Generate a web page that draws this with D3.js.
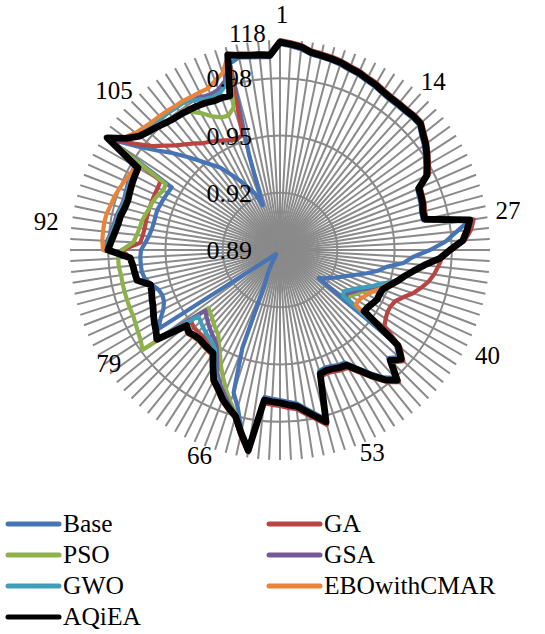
<!DOCTYPE html>
<html>
<head>
<meta charset="utf-8">
<script src="https://cdn.jsdelivr.net/npm/d3@7/dist/d3.min.js"></script>
<style>
  html, body { margin: 0; padding: 0; background: #ffffff; }
  svg { display: block; }
  text { font-family: "Liberation Serif", "Times New Roman", Times, serif; fill: #000; }
</style>
</head>
<body>
<svg id="chart" width="545" height="634"></svg>
<script>
// 120 test cases around the radar, every 13th one labelled
const categories = Array.from({ length: 120 }, (_, i) => i + 1);
const labeledCategories = [1, 14, 27, 40, 53, 66, 79, 92, 105, 118];

const tickValues = [0.89, 0.92, 0.95, 0.98];
const tickLabels = ["0.89", "0.92", "0.95", "0.98"];

const seriesNames = ["Base", "GA", "PSO", "GSA", "GWO", "EBOwithCMAR", "AQiEA"];

const base = [
  0.9979,0.9969,0.9958,0.9937,0.9932,0.9927,0.9921,0.9911,0.9906,0.9895,
  0.9890,0.9880,0.9874,0.9874,0.9874,0.9880,0.9880,0.9853,0.9832,0.9806,
  0.9780,0.9754,0.9686,0.9680,0.9675,0.9665,0.9665,0.9906,0.9832,0.9770,
  0.9686,0.9597,0.9550,0.9466,0.9424,0.9371,0.9319,0.9277,0.9246,0.9220,
  0.9193,0.9172,0.9151,0.9680,0.9738,0.9701,0.9801,0.9759,0.9696,0.9633,
  0.9581,0.9576,0.9565,0.9560,0.9565,0.9817,0.9775,0.9738,0.9707,0.9696,
  0.9686,0.9680,0.9675,0.9948,0.9869,0.9754,0.9686,0.9450,0.9099,0.9041,
  0.9000,0.8968,0.8947,0.8937,0.8931,0.8931,0.8942,0.8963,0.9015,0.9660,
  0.9623,0.9586,0.9565,0.9560,0.9570,0.9597,0.9623,0.9633,0.9633,0.9633,
  0.9628,0.9607,0.9591,0.9581,0.9576,0.9576,0.9576,0.9570,0.9565,0.9560,
  0.9555,0.9969,0.9822,0.9728,0.9660,0.9591,0.9529,0.9476,0.9434,0.9371,
  0.9319,0.9267,0.9225,0.9151,0.9424,0.9911,0.9932,0.9921,0.9916,0.9911
];

const ga = [
  1.0000,0.9989,0.9979,0.9958,0.9953,0.9948,0.9942,0.9932,0.9927,0.9916,
  0.9911,0.9900,0.9895,0.9895,0.9895,0.9900,0.9900,0.9874,0.9853,0.9827,
  0.9801,0.9775,0.9707,0.9701,0.9696,0.9686,0.9686,0.9927,0.9906,0.9869,
  0.9801,0.9749,0.9733,0.9717,0.9696,0.9665,0.9633,0.9591,0.9560,0.9550,
  0.9550,0.9560,0.9576,0.9712,0.9770,0.9733,0.9832,0.9790,0.9728,0.9665,
  0.9612,0.9607,0.9597,0.9591,0.9597,0.9848,0.9806,0.9770,0.9738,0.9728,
  0.9717,0.9712,0.9707,0.9974,0.9895,0.9811,0.9775,0.9743,0.9707,0.9665,
  0.9597,0.9539,0.9523,0.9513,0.9508,0.9508,0.9508,0.9497,0.9707,0.9675,
  0.9660,0.9644,0.9628,0.9618,0.9607,0.9602,0.9665,0.9670,0.9675,0.9686,
  0.9728,0.9633,0.9623,0.9618,0.9618,0.9618,0.9618,0.9618,0.9618,0.9618,
  0.9623,0.9979,0.9848,0.9764,0.9717,0.9675,0.9644,0.9618,0.9591,0.9576,
  0.9560,0.9544,0.9529,0.9523,0.9534,0.9942,0.9953,0.9942,0.9937,0.9932
];

const pso = [
  0.9989,0.9979,0.9969,0.9948,0.9942,0.9937,0.9932,0.9921,0.9916,0.9906,
  0.9900,0.9890,0.9885,0.9885,0.9885,0.9890,0.9890,0.9864,0.9843,0.9817,
  0.9790,0.9764,0.9696,0.9691,0.9686,0.9675,0.9675,0.9906,0.9885,0.9859,
  0.9790,0.9738,0.9660,0.9607,0.9565,0.9534,0.9476,0.9445,0.9413,0.9382,
  0.9361,0.9340,0.9340,0.9696,0.9754,0.9717,0.9817,0.9775,0.9712,0.9649,
  0.9597,0.9591,0.9581,0.9576,0.9581,0.9832,0.9790,0.9754,0.9722,0.9712,
  0.9701,0.9696,0.9691,0.9963,0.9874,0.9790,0.9738,0.9686,0.9633,0.9581,
  0.9529,0.9487,0.9450,0.9434,0.9419,0.9403,0.9392,0.9382,0.9790,0.9770,
  0.9759,0.9749,0.9743,0.9743,0.9743,0.9743,0.9743,0.9743,0.9749,0.9749,
  0.9728,0.9670,0.9654,0.9644,0.9639,0.9628,0.9618,0.9612,0.9602,0.9586,
  0.9591,0.9979,0.9895,0.9848,0.9827,0.9811,0.9796,0.9785,0.9780,0.9764,
  0.9728,0.9686,0.9660,0.9654,0.9686,0.9958,0.9942,0.9932,0.9927,0.9921
];

const gsa = [
  0.9989,0.9979,0.9969,0.9948,0.9942,0.9937,0.9932,0.9921,0.9916,0.9906,
  0.9900,0.9890,0.9885,0.9885,0.9885,0.9890,0.9890,0.9864,0.9843,0.9817,
  0.9790,0.9764,0.9696,0.9691,0.9686,0.9675,0.9675,0.9906,0.9885,0.9859,
  0.9790,0.9738,0.9660,0.9607,0.9565,0.9534,0.9471,0.9434,0.9398,0.9361,
  0.9340,0.9319,0.9324,0.9696,0.9754,0.9717,0.9817,0.9775,0.9712,0.9649,
  0.9597,0.9591,0.9581,0.9576,0.9581,0.9832,0.9790,0.9754,0.9722,0.9712,
  0.9701,0.9696,0.9691,0.9963,0.9880,0.9796,0.9754,0.9712,0.9670,0.9623,
  0.9560,0.9508,0.9481,0.9466,0.9450,0.9434,0.9419,0.9403,0.9696,0.9675,
  0.9660,0.9644,0.9628,0.9618,0.9607,0.9602,0.9665,0.9670,0.9675,0.9686,
  0.9822,0.9806,0.9790,0.9780,0.9775,0.9764,0.9759,0.9764,0.9770,0.9775,
  0.9780,0.9979,0.9900,0.9869,0.9848,0.9838,0.9832,0.9832,0.9827,0.9827,
  0.9817,0.9801,0.9790,0.9801,0.9832,0.9948,0.9942,0.9932,0.9927,0.9921
];

const gwo = [
  0.9989,0.9979,0.9969,0.9948,0.9942,0.9937,0.9932,0.9921,0.9916,0.9906,
  0.9900,0.9890,0.9885,0.9885,0.9885,0.9890,0.9890,0.9864,0.9843,0.9817,
  0.9790,0.9764,0.9696,0.9691,0.9686,0.9675,0.9675,0.9906,0.9885,0.9859,
  0.9790,0.9738,0.9660,0.9607,0.9565,0.9534,0.9466,0.9424,0.9382,0.9345,
  0.9319,0.9298,0.9309,0.9696,0.9754,0.9717,0.9817,0.9775,0.9712,0.9649,
  0.9597,0.9591,0.9581,0.9576,0.9581,0.9832,0.9790,0.9754,0.9722,0.9712,
  0.9701,0.9696,0.9691,0.9963,0.9880,0.9801,0.9764,0.9728,0.9686,0.9644,
  0.9581,0.9523,0.9502,0.9492,0.9481,0.9471,0.9460,0.9450,0.9696,0.9675,
  0.9660,0.9644,0.9628,0.9618,0.9607,0.9602,0.9665,0.9670,0.9675,0.9686,
  0.9817,0.9801,0.9785,0.9775,0.9770,0.9759,0.9754,0.9759,0.9764,0.9770,
  0.9775,0.9979,0.9895,0.9864,0.9843,0.9832,0.9827,0.9827,0.9822,0.9822,
  0.9806,0.9785,0.9775,0.9780,0.9811,0.9942,0.9942,0.9932,0.9927,0.9921
];

const ebo = [
  0.9989,0.9979,0.9969,0.9948,0.9942,0.9937,0.9932,0.9921,0.9916,0.9906,
  0.9900,0.9890,0.9885,0.9885,0.9885,0.9890,0.9890,0.9864,0.9843,0.9817,
  0.9790,0.9764,0.9696,0.9691,0.9686,0.9675,0.9675,0.9906,0.9885,0.9859,
  0.9790,0.9738,0.9660,0.9607,0.9565,0.9534,0.9487,0.9466,0.9434,0.9413,
  0.9398,0.9387,0.9392,0.9696,0.9754,0.9717,0.9817,0.9775,0.9712,0.9649,
  0.9597,0.9591,0.9581,0.9576,0.9581,0.9832,0.9790,0.9754,0.9722,0.9712,
  0.9701,0.9696,0.9691,0.9974,0.9890,0.9811,0.9780,0.9749,0.9707,0.9675,
  0.9612,0.9555,0.9550,0.9544,0.9539,0.9544,0.9555,0.9539,0.9707,0.9675,
  0.9660,0.9644,0.9628,0.9618,0.9607,0.9602,0.9665,0.9670,0.9675,0.9686,
  0.9827,0.9832,0.9832,0.9832,0.9827,0.9817,0.9811,0.9801,0.9790,0.9780,
  0.9770,0.9984,0.9906,0.9874,0.9859,0.9848,0.9843,0.9838,0.9832,0.9832,
  0.9827,0.9827,0.9827,0.9848,0.9874,0.9953,0.9942,0.9932,0.9927,0.9921
];

const aqiea = [
  0.9989,0.9979,0.9969,0.9948,0.9942,0.9937,0.9932,0.9921,0.9916,0.9906,
  0.9900,0.9890,0.9885,0.9885,0.9885,0.9890,0.9890,0.9864,0.9843,0.9817,
  0.9790,0.9764,0.9696,0.9691,0.9686,0.9675,0.9675,0.9906,0.9885,0.9859,
  0.9790,0.9738,0.9660,0.9607,0.9565,0.9534,0.9502,0.9476,0.9471,0.9471,
  0.9460,0.9450,0.9445,0.9696,0.9754,0.9717,0.9817,0.9775,0.9712,0.9649,
  0.9597,0.9591,0.9581,0.9576,0.9581,0.9832,0.9790,0.9754,0.9722,0.9712,
  0.9701,0.9696,0.9691,0.9963,0.9880,0.9801,0.9770,0.9738,0.9696,0.9665,
  0.9602,0.9544,0.9539,0.9534,0.9529,0.9534,0.9544,0.9529,0.9696,0.9675,
  0.9660,0.9644,0.9628,0.9618,0.9607,0.9602,0.9665,0.9670,0.9675,0.9686,
  0.9801,0.9785,0.9770,0.9759,0.9754,0.9743,0.9738,0.9743,0.9749,0.9754,
  0.9759,0.9979,0.9895,0.9848,0.9827,0.9811,0.9796,0.9785,0.9780,0.9775,
  0.9770,0.9764,0.9754,0.9754,0.9749,0.9958,0.9942,0.9932,0.9927,0.9921
];

const seriesValues = [base, ga, pso, gsa, gwo, ebo, aqiea];
const seriesColors = ["#4674b4", "#b94542", "#8fb14c", "#74599d", "#3f9fba", "#e9833a", "#000000"];
const seriesWidths = [4.2, 4.2, 4.2, 4.2, 4.2, 4.2, 6.8];

const svg = d3.select("#chart");
const cx = 280, cy = 250, R = 210;
const gridColor = "#8a8a8a";

const rScale = d3.scaleLinear().domain([0.89, 1.0]).range([0, R]);
const angle = d3.scaleLinear().domain([0, categories.length]).range([0, 2 * Math.PI]);

const g = svg.append("g").attr("transform", `translate(${cx},${cy})`);

// spokes, one per category
g.append("g").selectAll("line")
  .data(categories)
  .join("line")
  .attr("x1", 0).attr("y1", 0)
  .attr("x2", (d, i) => R * Math.sin(angle(i)))
  .attr("y2", (d, i) => -R * Math.cos(angle(i)))
  .attr("stroke", gridColor)
  .attr("stroke-width", 2);

// concentric gridlines at the major ticks
g.append("g").selectAll("circle")
  .data(tickValues.filter(v => rScale(v) > 0))
  .join("circle")
  .attr("r", d => rScale(d))
  .attr("fill", "none")
  .attr("stroke", gridColor)
  .attr("stroke-width", 2);

// series outlines
const radial = d3.lineRadial()
  .angle((d, i) => angle(i))
  .radius(d => rScale(d))
  .curve(d3.curveLinearClosed);

g.append("g").selectAll("path")
  .data(seriesValues)
  .join("path")
  .attr("d", d => radial(d))
  .attr("fill", "none")
  .attr("stroke", (d, i) => seriesColors[i])
  .attr("stroke-width", (d, i) => seriesWidths[i])
  .attr("stroke-linejoin", "round");

// value axis labels along the first spoke
g.append("g").selectAll("text")
  .data(tickValues)
  .join("text")
  .attr("x", -28)
  .attr("y", d => -rScale(d))
  .attr("dy", "0.35em")
  .attr("text-anchor", "end")
  .attr("font-size", 26)
  .text((d, i) => tickLabels[i]);

// category labels sit just outside the spoke ends, with small per-label nudges
const labelGap = 24;
const labelNudge = {
  1: [2, -2], 14: [6, 13], 27: [-1, 9], 40: [-1, -1], 53: [-3, -12],
  66: [-20, -21], 79: [18, -24], 92: [0, -17], 105: [8, -3], 118: [4, 14]
};
g.append("g").selectAll("text")
  .data(labeledCategories)
  .join("text")
  .attr("x", d => (R + labelGap) * Math.sin(angle(d - 1)) + labelNudge[d][0])
  .attr("y", d => -(R + labelGap) * Math.cos(angle(d - 1)) + labelNudge[d][1])
  .attr("dy", "0.35em")
  .attr("text-anchor", "middle")
  .attr("font-size", 25)
  .text(d => d);

// legend: two columns
const legend = svg.append("g");
const rowY = d3.scaleLinear().domain([0, 1]).range([524, 555]);
const colX = [7, 268];
seriesNames.forEach((name, i) => {
  const col = i % 2, row = Math.floor(i / 2);
  const x = colX[col], y = rowY(row);
  legend.append("line")
    .attr("x1", x + 1).attr("x2", x + 52)
    .attr("y1", y).attr("y2", y)
    .attr("stroke", seriesColors[i])
    .attr("stroke-width", 5)
    .attr("stroke-linecap", "round");
  legend.append("text")
    .attr("x", x + 56)
    .attr("y", y + 8)
    .attr("font-size", 25.5)
    .text(name);
});
</script>
</body>
</html>
